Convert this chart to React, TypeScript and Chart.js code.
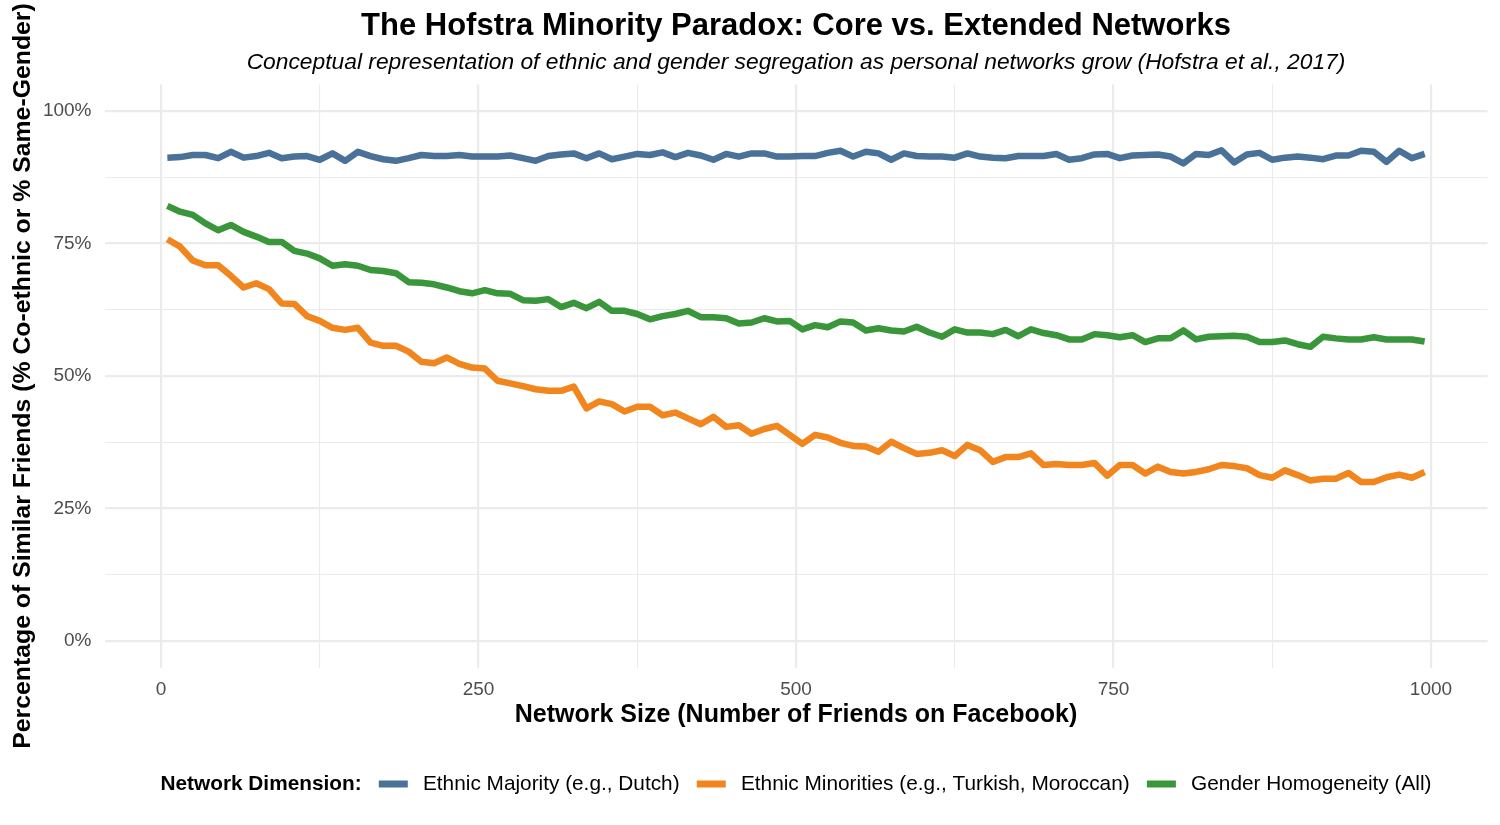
import { useEffect, useRef } from 'react';
import { Chart, registerables } from 'chart.js';

Chart.register(...registerables);

// Network size (x) for every sampled point
const networkSize = [
    5, 15, 25, 35, 45, 55, 65, 75, 85, 95,
    105, 115, 125, 135, 145, 155, 165, 175, 185, 195,
    205, 215, 225, 235, 245, 255, 265, 275, 285, 295,
    305, 315, 325, 335, 345, 355, 365, 375, 385, 395,
    405, 415, 425, 435, 445, 455, 465, 475, 485, 495,
    505, 515, 525, 535, 545, 555, 565, 575, 585, 595,
    605, 615, 625, 635, 645, 655, 665, 675, 685, 695,
    705, 715, 725, 735, 745, 755, 765, 775, 785, 795,
    805, 815, 825, 835, 845, 855, 865, 875, 885, 895,
    905, 915, 925, 935, 945, 955, 965, 975, 985, 995,
];

const ethnicMajority = [
    91.2, 91.3, 91.7, 91.7, 91.1, 92.3, 91.2, 91.5, 92.1, 91.1,
    91.4, 91.5, 90.8, 92.0, 90.6, 92.3, 91.5, 90.9, 90.6, 91.1,
    91.7, 91.5, 91.5, 91.7, 91.4, 91.4, 91.4, 91.6, 91.1, 90.6,
    91.5, 91.8, 92.0, 91.1, 92.0, 90.9, 91.4, 91.9, 91.7, 92.2,
    91.3, 92.1, 91.6, 90.8, 91.9, 91.4, 92.0, 92.0, 91.4, 91.4,
    91.5, 91.5, 92.1, 92.5, 91.4, 92.3, 92.0, 90.8, 92.0, 91.5,
    91.4, 91.4, 91.2, 92.0, 91.4, 91.2, 91.1, 91.5, 91.5, 91.5,
    91.9, 90.8, 91.1, 91.8, 91.9, 91.1, 91.6, 91.7, 91.8, 91.4,
    90.1, 91.9, 91.7, 92.6, 90.3, 91.8, 92.1, 90.8, 91.2, 91.4,
    91.2, 90.9, 91.6, 91.6, 92.5, 92.3, 90.4, 92.5, 91.1, 91.9,
];

const ethnicMinorities = [
    75.8, 74.4, 71.8, 70.9, 70.9, 68.9, 66.7, 67.5, 66.4, 63.7,
    63.6, 61.3, 60.4, 59.1, 58.7, 59.1, 56.3, 55.7, 55.7, 54.6,
    52.7, 52.4, 53.5, 52.3, 51.6, 51.4, 49.1, 48.6, 48.1, 47.5,
    47.2, 47.2, 48.0, 43.9, 45.2, 44.7, 43.3, 44.2, 44.2, 42.6,
    43.1, 42.0, 40.9, 42.3, 40.4, 40.7, 39.1, 40.0, 40.6, 38.9,
    37.2, 38.9, 38.4, 37.4, 36.8, 36.7, 35.7, 37.6, 36.4, 35.3,
    35.5, 36.0, 34.9, 37.0, 36.0, 33.8, 34.7, 34.7, 35.4, 33.2,
    33.4, 33.2, 33.2, 33.6, 31.2, 33.2, 33.2, 31.6, 32.9, 31.9,
    31.6, 31.9, 32.4, 33.2, 33.0, 32.6, 31.3, 30.8, 32.2, 31.3,
    30.3, 30.6, 30.6, 31.7, 30.0, 30.0, 30.9, 31.4, 30.8, 31.9,
];

const genderHomogeneity = [
    82.1, 81.0, 80.4, 78.8, 77.5, 78.5, 77.2, 76.3, 75.3, 75.3,
    73.6, 73.1, 72.2, 70.8, 71.1, 70.8, 70.0, 69.8, 69.4, 67.7,
    67.6, 67.3, 66.7, 66.0, 65.6, 66.2, 65.6, 65.5, 64.3, 64.2,
    64.5, 63.0, 63.8, 62.8, 64.0, 62.3, 62.3, 61.7, 60.7, 61.3,
    61.7, 62.3, 61.1, 61.1, 60.9, 59.9, 60.1, 60.9, 60.3, 60.4,
    58.8, 59.6, 59.2, 60.3, 60.1, 58.6, 59.0, 58.6, 58.4, 59.3,
    58.2, 57.4, 58.8, 58.2, 58.2, 57.9, 58.7, 57.5, 58.8, 58.1,
    57.7, 56.9, 56.9, 57.9, 57.7, 57.3, 57.7, 56.4, 57.1, 57.1,
    58.6, 56.9, 57.4, 57.5, 57.6, 57.4, 56.4, 56.4, 56.7, 56.0,
    55.5, 57.4, 57.1, 56.9, 56.9, 57.3, 56.9, 56.9, 56.9, 56.5,
];

const xTicks = [0, 125, 250, 375, 500, 625, 750, 875, 1000];
const xLabelled = [0, 250, 500, 750, 1000];
const yTicks = [0, 12.5, 25, 37.5, 50, 62.5, 75, 87.5, 100];
const yLabelled = [0, 25, 50, 75, 100];

const seriesNames = [
    'Ethnic Majority (e.g., Dutch)',
    'Ethnic Minorities (e.g., Turkish, Moroccan)',
    'Gender Homogeneity (All)',
];
const seriesValues = [ethnicMajority, ethnicMinorities, genderHomogeneity];
const seriesColors = ['#4A7298', '#F0861D', '#3A963A'];

const TITLE = 'The Hofstra Minority Paradox: Core vs. Extended Networks';
const SUBTITLE = 'Conceptual representation of ethnic and gender segregation as personal networks grow (Hofstra et al., 2017)';
const X_TITLE = 'Network Size (Number of Friends on Facebook)';
const Y_TITLE = 'Percentage of Similar Friends (% Co-ethnic or % Same-Gender)';
const LEGEND_TITLE = 'Network Dimension:';

const FONT = '"Liberation Sans", Arial, sans-serif';

// title, subtitle, rotated y title and the inline legend, all centred on the panel
const textPlugin = {
    id: 'hofstraText',
    afterDraw(chart: Chart) {
        const { ctx, chartArea } = chart;
        const cx = (chartArea.left + chartArea.right) / 2;
        const cy = (chartArea.top + chartArea.bottom) / 2;
        ctx.save();
        ctx.fillStyle = '#000000';
        ctx.textAlign = 'center';
        ctx.textBaseline = 'alphabetic';
        ctx.font = `bold 31px ${FONT}`;
        ctx.fillText(TITLE, cx, 35);
        ctx.font = `italic 22.8px ${FONT}`;
        ctx.fillText(SUBTITLE, cx, 69);

        ctx.save();
        ctx.translate(30, cy);
        ctx.rotate(-Math.PI / 2);
        ctx.font = `bold 24.8px ${FONT}`;
        ctx.fillText(Y_TITLE, 0, 0);
        ctx.restore();

        // legend
        const legendY = 784;
        const keyW = 29;
        const keyH = 7;
        const gapBefore = 17.2;
        const gapAfter = 15.2;
        ctx.font = `bold 20.8px ${FONT}`;
        const titleW = ctx.measureText(LEGEND_TITLE).width;
        ctx.font = `20.8px ${FONT}`;
        const itemW = seriesNames.map(n => ctx.measureText(n).width);
        const total = titleW + itemW.reduce((s, w) => s + gapBefore + keyW + gapAfter + w, 0);
        let x = cx - total / 2;
        ctx.textAlign = 'left';
        ctx.textBaseline = 'middle';
        ctx.font = `bold 20.8px ${FONT}`;
        ctx.fillText(LEGEND_TITLE, x, legendY);
        x += titleW;
        ctx.font = `20.8px ${FONT}`;
        seriesNames.forEach((name, i) => {
            x += gapBefore;
            ctx.fillStyle = seriesColors[i];
            ctx.fillRect(x, legendY - keyH / 2, keyW, keyH);
            x += keyW + gapAfter;
            ctx.fillStyle = '#000000';
            ctx.fillText(name, x, legendY);
            x += itemW[i];
        });
        ctx.restore();
    },
};

export default function App() {
    const chartRef = useRef<HTMLCanvasElement>(null);
    const chartInstanceRef = useRef<Chart | null>(null);

    useEffect(() => {
        if (!chartRef.current) return;
        const ctx = chartRef.current.getContext('2d');
        if (!ctx) return;

        if (chartInstanceRef.current) {
            chartInstanceRef.current.destroy();
        }

        const datasets = seriesNames.map((name, i) => ({
            label: name,
            data: networkSize.map((x, j) => ({ x, y: seriesValues[i][j] })),
            borderColor: seriesColors[i],
            backgroundColor: seriesColors[i],
            borderWidth: 6.5,
            borderJoinStyle: 'round' as const,
            borderCapStyle: 'butt' as const,
            pointRadius: 0,
            tension: 0,
            fill: false,
        }));

        chartInstanceRef.current = new Chart(ctx, {
            type: 'line',
            data: { datasets },
            options: {
                responsive: true,
                maintainAspectRatio: false,
                animation: false,
                layout: {
                    padding: { top: 84.5, right: 12.5, bottom: 87.5, left: 0 },
                },
                plugins: {
                    legend: { display: false },
                    tooltip: { enabled: false },
                    title: { display: false },
                },
                scales: {
                    x: {
                        type: 'linear',
                        min: -44.5,
                        max: 1044.5,
                        afterBuildTicks: (scale) => {
                            scale.ticks = xTicks.map(v => ({ value: v }));
                        },
                        afterFit: (scale) => {
                            scale.height = 70;
                        },
                        border: { display: false },
                        grid: {
                            color: '#EBEBEB',
                            lineWidth: (c) => (xLabelled.includes(c.tick.value) ? 2.2 : 1.1),
                            drawTicks: false,
                        },
                        ticks: {
                            autoSkip: false,
                            maxRotation: 0,
                            padding: 11,
                            color: '#4D4D4D',
                            font: { family: FONT, size: 19 },
                            callback: (v) => (xLabelled.includes(Number(v)) ? String(v) : ''),
                        },
                        title: {
                            display: true,
                            text: X_TITLE,
                            color: '#000000',
                            font: { family: FONT, size: 25, weight: 'bold' },
                            padding: { top: 0, bottom: 7.5 },
                        },
                    },
                    y: {
                        type: 'linear',
                        min: -5,
                        max: 105,
                        afterBuildTicks: (scale) => {
                            scale.ticks = yTicks.map(v => ({ value: v }));
                        },
                        afterFit: (scale) => {
                            scale.width = 104.5;
                        },
                        border: { display: false },
                        grid: {
                            color: '#EBEBEB',
                            lineWidth: (c) => (yLabelled.includes(c.tick.value) ? 2.2 : 1.1),
                            drawTicks: false,
                        },
                        ticks: {
                            autoSkip: false,
                            padding: 13,
                            color: '#4D4D4D',
                            font: { family: FONT, size: 19 },
                            callback: (v) => (yLabelled.includes(Number(v)) ? `${v}%` : ''),
                        },
                        title: { display: false },
                    },
                },
            },
            plugins: [textPlugin],
        });

        return () => {
            if (chartInstanceRef.current) {
                chartInstanceRef.current.destroy();
                chartInstanceRef.current = null;
            }
        };
    }, []);

    return (
        <div style={{ position: 'fixed', left: 0, top: 0, width: 1500, height: 825, background: '#ffffff' }}>
            <canvas ref={chartRef}></canvas>
        </div>
    );
}
